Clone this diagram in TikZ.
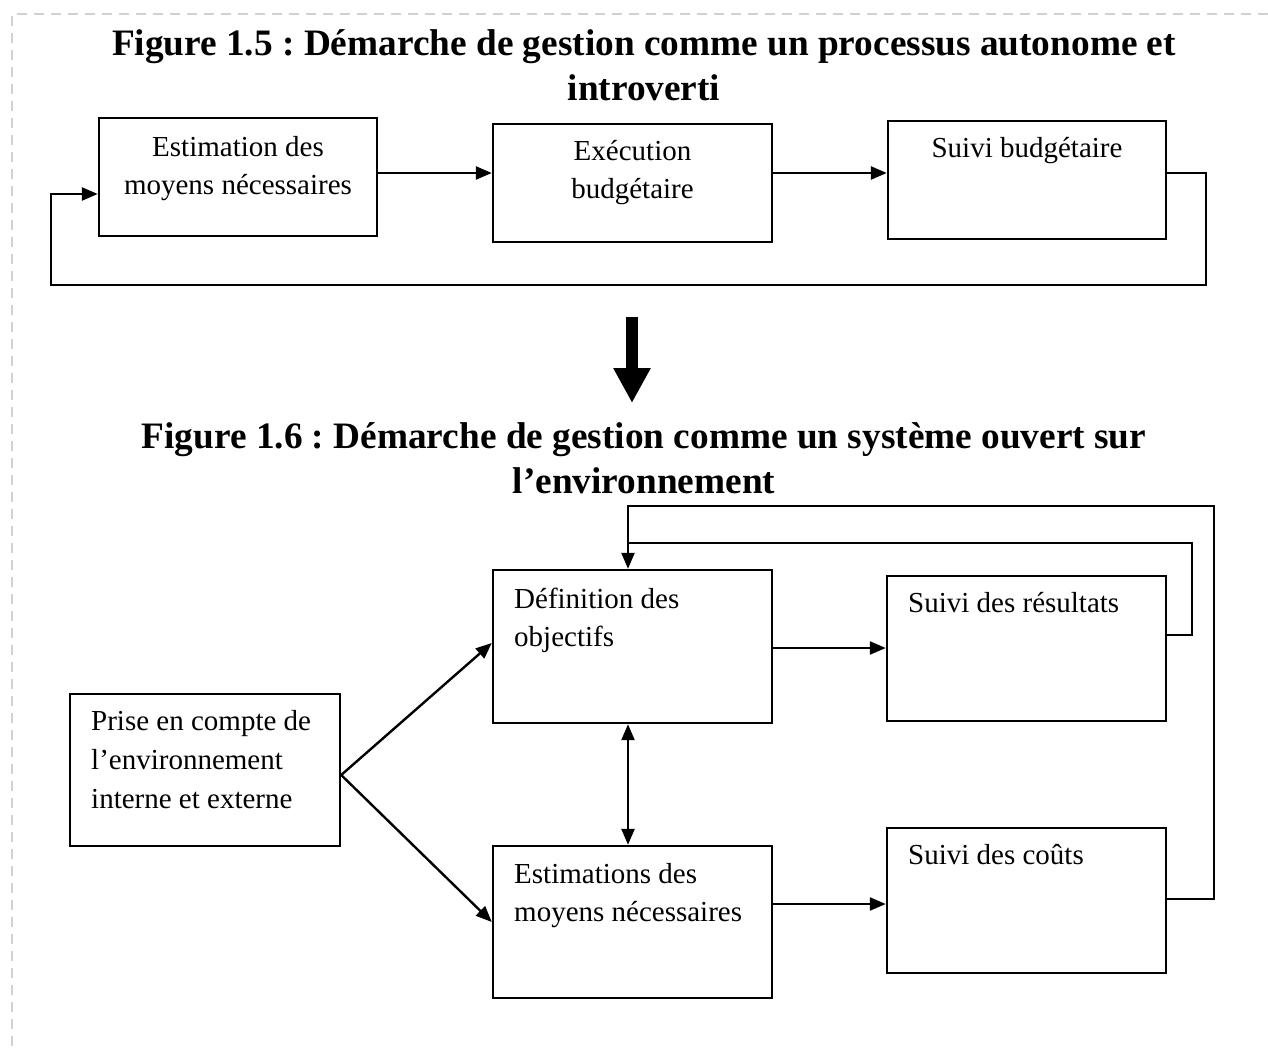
\documentclass[tikz,border=0pt]{standalone}
\usepackage{fontspec}
\setmainfont{Liberation Serif}
\usetikzlibrary{arrows.meta,calc}
\frenchspacing
\newcommand\linesc[1]{\begin{tabular}[t]{@{}c@{}}#1\end{tabular}}
\newcommand\linesl[1]{\begin{tabular}[t]{@{}l@{}}#1\end{tabular}}
\begin{document}
\begin{tikzpicture}[x=1pt,y=-1pt,
  box/.style={draw=black, line width=2.4pt, inner sep=0pt, minimum width=279pt},
  bodyc/.style={font=\fontsize{29}{38}\selectfont, inner sep=0pt, anchor=base},
  bodyl/.style={font=\fontsize{29}{38}\selectfont, inner sep=0pt, anchor=base west},
  ttl/.style={font=\bfseries\fontsize{37.3}{45}\selectfont, inner sep=0pt, anchor=base},
  conn/.style={line width=2.4pt},
  arr/.style={conn, -{Triangle[length=16pt,width=13pt]}},
  darr/.style={conn, {Triangle[length=16pt,width=13pt]}-{Triangle[length=16pt,width=13pt]}},
  frame/.style={draw=black!18, line width=2pt, dash pattern=on 10pt off 7pt}]
\useasboundingbox (0,0) rectangle (1268,1048);
\fill[white] (0,0) rectangle (1268,1048);
\draw[frame] (1268,14) -- (12,14) -- (12,1048);

% ---------- Figure 1.5 ----------
\node[ttl] (title1) at (644,56) {\linesc{Figure 1.5 : Démarche de gestion comme un processus autonome et\\introverti}};

\node[box, minimum width=278pt, minimum height=118pt] (b1) at (238,177) {};
\node[box, minimum width=279pt, minimum height=118pt] (b2) at (632.5,183) {};
\node[box, minimum width=278pt, minimum height=118pt] (b3) at (1027,180) {};

\node[bodyc] (t1) at (238,157) {\linesc{Estimation des\\moyens nécessaires}};
\node[bodyc] (t2) at (632.5,161) {\linesc{Exécution\\budgétaire}};
\node[bodyc] (t3) at (1027,158) {Suivi budgétaire};

\draw[arr] (b1.east |- 0,173) -- (b2.west |- 0,173);
\draw[arr] (b2.east |- 0,173) -- (b3.west |- 0,173);
\draw[arr] (b3.east |- 0,173) -- (1206,173) -- (1206,285) -- (51,285) -- (51,194) -- (b1.west |- 0,194);

% ---------- transition arrow ----------
\coordinate (bigtop) at (632,317);
\coordinate (bigtip) at (632,403);
\draw[line width=12pt, -{Triangle[length=35pt,width=35pt]}] (bigtop) -- (bigtip);

% ---------- Figure 1.6 ----------
\node[ttl] (title2) at (644,448) {\linesc{Figure 1.6 : Démarche de gestion comme un système ouvert sur\\l’environnement}};

\node[box, minimum height=153pt] (def) at (632.5,646.5) {};
\node[box, minimum height=145pt] (res) at (1026.5,648.5) {};
\node[box, minimum height=145pt] (cout) at (1026.5,900.5) {};
\node[box, minimum height=152pt] (est) at (632.5,922) {};
\node[box, minimum width=270pt, minimum height=152pt] (prise) at (205,770) {};

\node[bodyl] (tdef) at (514,608) {\linesl{Définition des\\objectifs}};
\node[bodyl] (tres) at (908,612) {Suivi des résultats};
\node[bodyl] (tcout) at (908,864) {Suivi des coûts};
\node[bodyl] (test) at (514,883) {\linesl{Estimations des\\moyens nécessaires}};
\node[bodyl, font=\fontsize{29}{39}\selectfont] (tprise) at (91,730) {\linesl{Prise en compte de\\l’environnement\\interne et externe}};

\coordinate (fork) at (prise.east |- 0,775);
\draw[arr] (fork) -- (def.west |- 0,643);
\draw[arr] (fork) -- (est.west |- 0,922);

\draw[arr] (def.east |- 0,648) -- (res.west |- 0,648);
\draw[arr] (est.east |- 0,904) -- (cout.west |- 0,904);
\draw[darr] (def.south -| 628,0) -- (est.north -| 628,0);

\draw[arr] (cout.east |- 0,899) -- (1214,899) -- (1214,506) -- (628,506) -- (def.north -| 628,0);
\draw[conn] (res.east |- 0,635) -- (1192,635) -- (1192,543) -- (628,543);
\end{tikzpicture}
\end{document}
